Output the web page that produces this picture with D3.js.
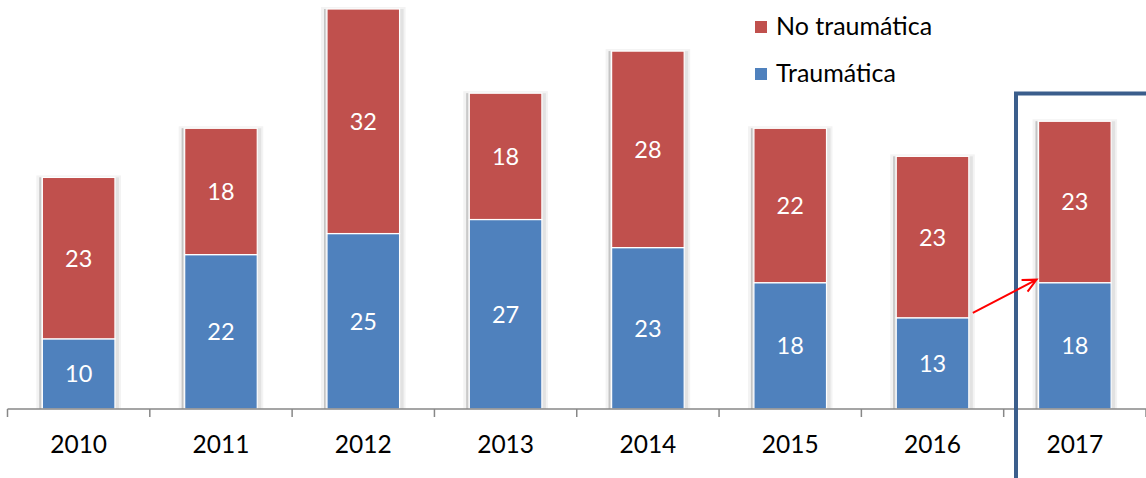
<!DOCTYPE html>
<html>
<head>
<meta charset="utf-8">
<script src="https://cdn.jsdelivr.net/npm/d3@7"></script>
<style>
  body { margin: 0; background: #fff; }
  text { font-family: Lato, "Open Sans", sans-serif; }
</style>
</head>
<body>
<script>
  var years = ["2010", "2011", "2012", "2013", "2014", "2015", "2016", "2017"];
  var traumatica = [10, 22, 25, 27, 23, 18, 13, 18];
  var noTraumatica = [23, 18, 32, 18, 28, 22, 23, 23];
  var seriesNames = ["Traumática", "No traumática"];
  var colors = ["#4F81BD", "#C0504D"];

  var w = 1146;
  var h = 478;

  var svg = d3.select("body").append("svg")
              .attr("width", w)
              .attr("height", h);

  var x = d3.scaleBand()
            .domain(years)
            .range([7.5, 1146])
            .paddingInner(0.49)
            .paddingOuter(0.245);

  var y = d3.scaleLinear()
            .domain([0, 57])
            .range([409, 9]);

  var rows = years.map(function(yr, i){
    return {year: yr, t: traumatica[i], n: noTraumatica[i]};
  });
  var stacked = d3.stack().keys(["t", "n"])(rows);

  var bw = x.bandwidth();

  // shadows behind bars
  var shadow = svg.append("g");
  rows.forEach(function(d){
    var top = y(d.t + d.n);
    shadow.append("rect")
      .attr("x", x(d.year) - 6).attr("y", top - 2)
      .attr("width", bw + 12).attr("height", y(0) - top + 2)
      .attr("fill", "#f3f3f3");
    shadow.append("rect")
      .attr("x", x(d.year) - 3).attr("y", top)
      .attr("width", bw + 7).attr("height", y(0) - top)
      .attr("fill", "#e2e2e2");
    shadow.append("rect")
      .attr("x", x(d.year) - 3).attr("y", top)
      .attr("width", 1.5).attr("height", y(0) - top)
      .attr("fill", "#c4c4c4");
  });

  var layers = svg.selectAll(".layer")
    .data(stacked)
    .enter().append("g")
      .attr("class", "layer")
      .attr("fill", function(d, i){ return colors[i]; });

  layers.selectAll("rect")
    .data(function(d){ return d; })
    .enter().append("rect")
      .attr("x", function(d){ return x(d.data.year); })
      .attr("y", function(d){ return y(d[1]); })
      .attr("width", bw)
      .attr("height", function(d){ return y(d[0]) - y(d[1]); })
      .attr("stroke", "#fff")
      .attr("stroke-width", 1.2);

  layers.selectAll("text")
    .data(function(d){ return d; })
    .enter().append("text")
      .attr("x", function(d){ return x(d.data.year) + bw / 2; })
      .attr("y", function(d){ return (y(d[0]) + y(d[1])) / 2; })
      .attr("dy", "0.36em")
      .attr("text-anchor", "middle")
      .attr("fill", "#fff")
      .attr("font-size", 23.5)
      .text(function(d){ return d[1] - d[0]; });

  // x axis
  var axis = svg.append("g").attr("stroke", "#878787").attr("stroke-width", 1.5);
  axis.append("line")
    .attr("x1", 7.5).attr("x2", 1146).attr("y1", y(0)).attr("y2", y(0));
  var step = x.step();
  d3.range(years.length + 1).forEach(function(i){
    var tx = 7.5 + i * step;
    axis.append("line")
      .attr("x1", tx).attr("x2", tx).attr("y1", y(0)).attr("y2", y(0) + 8);
  });

  svg.append("g").selectAll("text")
    .data(years)
    .enter().append("text")
      .attr("x", function(d){ return x(d) + bw / 2; })
      .attr("y", 453)
      .attr("text-anchor", "middle")
      .attr("fill", "#000")
      .attr("font-size", 24.5)
      .text(function(d){ return d; });

  // legend
  var legend = svg.append("g");
  [1, 0].forEach(function(s, i){
    legend.append("rect")
      .attr("x", 755).attr("y", 21 + i * 47)
      .attr("width", 12).attr("height", 12)
      .attr("fill", colors[s]);
    legend.append("text")
      .attr("x", 776).attr("y", 35 + i * 47)
      .attr("font-size", 25)
      .attr("fill", "#000")
      .text(seriesNames[s]);
  });

  // highlight box around 2017
  svg.append("path")
    .attr("d", "M1016,478 V93.5 H1150")
    .attr("fill", "none")
    .attr("stroke", "#3B5E8C")
    .attr("stroke-width", 4);

  // arrow from 2016 to 2017
  var x0 = x("2016") + bw + 4, y0 = y(traumatica[6]) - 5;
  var x1 = x("2017") - 2, y1 = y(traumatica[7]) - 3;
  var ang = Math.atan2(y1 - y0, x1 - x0);
  var head = 15;
  svg.append("path")
    .attr("d", "M" + x0 + "," + y0 + " L" + x1 + "," + y1 +
      " M" + (x1 - head * Math.cos(ang - 0.45)) + "," + (y1 - head * Math.sin(ang - 0.45)) +
      " L" + x1 + "," + y1 +
      " L" + (x1 - head * Math.cos(ang + 0.45)) + "," + (y1 - head * Math.sin(ang + 0.45)))
    .attr("fill", "none")
    .attr("stroke", "#FF0000")
    .attr("stroke-width", 2);
</script>
</body>
</html>
